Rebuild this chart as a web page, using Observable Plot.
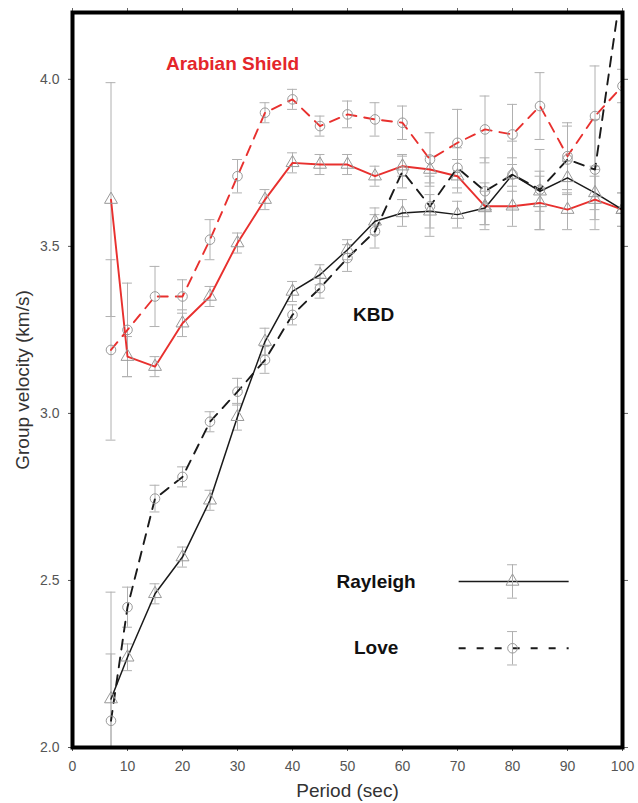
<!DOCTYPE html>
<html><head><meta charset="utf-8">
<script src="https://cdn.jsdelivr.net/npm/d3@7"></script>
<script src="https://cdn.jsdelivr.net/npm/@observablehq/plot@0.6"></script>
<style>
html,body{margin:0;padding:0;background:#fff;}
#chart svg{display:block;}
</style></head><body><div id="chart"></div>
<script>
// ---- data ----
const periods = [7,10,15,20,25,30,35,40,45,50,55,60,65,70,75,80,85,90,95,100];
const arabianRayleigh = [3.64,3.17,3.14,3.27,3.35,3.51,3.64,3.75,3.745,3.745,3.71,3.74,3.73,3.71,3.62,3.62,3.63,3.61,3.64,3.61];
const arabianRayleighErr = [0.35,0.06,0.03,0.04,0.03,0.03,0.03,0.03,0.03,0.03,0.03,0.03,0.04,0.05,0.07,0.06,0.08,0.06,0.09,0.05];
const arabianLove = [3.19,3.25,3.35,3.35,3.52,3.71,3.90,3.94,3.86,3.895,3.88,3.87,3.76,3.81,3.85,3.835,3.92,3.77,3.89,3.98];
const arabianLoveErr = [0.27,0.14,0.09,0.05,0.06,0.05,0.03,0.03,0.03,0.04,0.05,0.05,0.08,0.10,0.10,0.09,0.10,0.10,0.15,0.05];
const kbdRayleigh = [2.145,2.27,2.46,2.57,2.74,2.99,3.215,3.365,3.415,3.49,3.575,3.60,3.605,3.595,3.615,3.715,3.665,3.705,3.66,3.61];
const kbdRayleighErr = [0.32,0.04,0.03,0.03,0.03,0.04,0.04,0.03,0.03,0.03,0.04,0.04,0.05,0.04,0.05,0.05,0.06,0.05,0.05,0.05];
const kbdLove = [2.08,2.42,2.745,2.81,2.975,3.065,3.16,3.295,3.375,3.465,3.545,3.725,3.62,3.735,3.665,3.715,3.67,3.76,3.73,4.3];
const kbdLoveErr = [0.20,0.06,0.04,0.03,0.03,0.04,0.04,0.03,0.03,0.04,0.05,0.05,0.09,0.06,0.10,0.10,0.12,0.10,0.15,0.10];

const xTicks = [0,10,20,30,40,50,60,70,80,90,100];
const yTicks = [2.0,2.5,3.0,3.5,4.0];

const regionLabels = ["Arabian Shield","KBD"];
const regionLabelX = [17,51];
const regionLabelY = [4.046,3.296];
const regionLabelColor = ["#e4262a","#111"];

const legendNames = ["Rayleigh","Love"];
const legendTextX = [55.2,55.2];
const legendY = [2.497,2.297];
const legendLineX1 = [70.3,70.3];
const legendLineX2 = [90.3,90.3];
const legendMarkerX = [80,80];
const legendErr = [0.05,0.05];

// ---- build table ----
const RED = "#e8302e", BLACK = "#1a1a1a";
const seriesDefs = [
  {name:"arabianRayleigh", vals:arabianRayleigh, errs:arabianRayleighErr, color:RED, dash:null, sym:"triangle", w:1.9},
  {name:"arabianLove", vals:arabianLove, errs:arabianLoveErr, color:RED, dash:"10,8", sym:"circle", w:1.9},
  {name:"kbdRayleigh", vals:kbdRayleigh, errs:kbdRayleighErr, color:BLACK, dash:null, sym:"triangle", w:1.5},
  {name:"kbdLove", vals:kbdLove, errs:kbdLoveErr, color:BLACK, dash:"10,8", sym:"circle", w:1.9}
];
const rows = [];
for (const s of seriesDefs) periods.forEach((p,i)=>rows.push({series:s.name, period:p, v:s.vals[i], err:s.errs[i], sym:s.sym}));
const caps = rows.flatMap(d=>[{period:d.period, y:d.v-d.err},{period:d.period, y:d.v+d.err}]);

const legend = legendNames.map((n,i)=>({name:n, tx:legendTextX[i], y:legendY[i], x1:legendLineX1[i], x2:legendLineX2[i], mx:legendMarkerX[i], err:legendErr[i], sym:i===0?"triangle":"circle"}));
const legendCaps = legend.flatMap(d=>[{period:d.mx, y:d.y-d.err},{period:d.mx, y:d.y+d.err}]);
const labels = regionLabels.map((t,i)=>({t, x:regionLabelX[i], y:regionLabelY[i], c:regionLabelColor[i]}));

const FONT = "'Liberation Sans', Arial, Helvetica, sans-serif";
const ERR = "#b0b0b0";
const MK = "#999";
const CAPW = 0.9;

const marks = [
  // error bars
  Plot.ruleX(rows, {x:"period", y1:d=>d.v-d.err, y2:d=>d.v+d.err, stroke:ERR, strokeWidth:1, clip:true}),
  Plot.ruleY(caps, {y:"y", x1:d=>d.period-CAPW, x2:d=>d.period+CAPW, stroke:ERR, strokeWidth:1, clip:true}),
  // lines
  ...seriesDefs.map(s=>Plot.line(rows.filter(d=>d.series===s.name), {x:"period", y:"v", stroke:s.color, strokeWidth:s.w, strokeDasharray:s.dash, clip:true})),
  // markers
  Plot.dot(rows, {x:"period", y:"v", symbol:"sym", r:4.8, stroke:MK, strokeWidth:1, fill:"none", clip:true}),
  // legend
  Plot.ruleY([legend[0]], {y:"y", x1:"x1", x2:"x2", stroke:BLACK, strokeWidth:1.5}),
  Plot.ruleY([legend[1]], {y:"y", x1:"x1", x2:"x2", stroke:BLACK, strokeWidth:2, strokeDasharray:"7,11"}),
  Plot.ruleX(legend, {x:"mx", y1:d=>d.y-d.err, y2:d=>d.y+d.err, stroke:ERR, strokeWidth:1}),
  Plot.ruleY(legendCaps, {y:"y", x1:d=>d.period-CAPW, x2:d=>d.period+CAPW, stroke:ERR, strokeWidth:1}),
  Plot.dot(legend, {x:"mx", y:"y", symbol:"sym", r:4.8, stroke:MK, strokeWidth:1, fill:"none"}),
  Plot.text(legend, {x:"tx", y:"y", text:"name", fontSize:19, fontWeight:"bold", fill:"#111", textAnchor:"middle", lineAnchor:"middle", fontFamily:FONT}),
  // region labels
  Plot.text(labels, {x:"x", y:"y", text:"t", fill:"c", fontSize:19, fontWeight:"bold", textAnchor:"start", lineAnchor:"middle", fontFamily:FONT}),
  // axes
  Plot.axisX({ticks:xTicks, tickSize:4, tickPadding:10, label:null, color:"#555", fontSize:14, fontFamily:FONT}),
  Plot.axisX({anchor:"top", ticks:xTicks, tickSize:5, tickFormat:()=> "", label:null, color:"#666"}),
  Plot.axisY({ticks:yTicks, tickSize:4, tickPadding:9, tickFormat:d3.format(".1f"), label:null, color:"#555", fontSize:14, fontFamily:FONT}),
  Plot.axisY({anchor:"right", ticks:yTicks, tickSize:5, tickFormat:()=> "", label:null, color:"#666"}),
  Plot.frame({stroke:"#000", strokeWidth:4}),
  // axis titles
  Plot.text(["Period (sec)"], {frameAnchor:"bottom", dy:43, text:d=>d, fontSize:19, fill:"#333", textAnchor:"middle", lineAnchor:"middle", fontFamily:FONT}),
  Plot.text(["Group velocity (km/s)"], {frameAnchor:"left", dx:-50, rotate:-90, text:d=>d, fontSize:19, fill:"#333", textAnchor:"middle", lineAnchor:"middle", fontFamily:FONT})
];

const chart = Plot.plot({
  width:638, height:803,
  marginLeft:72, marginRight:16, marginTop:12, marginBottom:56,
  x:{domain:[0,100], axis:null},
  y:{domain:[2.0,4.2], axis:null},
  symbol:{type:"identity"},
  style:{background:"#fff", fontFamily:FONT, fontSize:"14px", overflow:"visible"},
  marks
});
document.getElementById("chart").appendChild(chart);
</script>
</body></html>
